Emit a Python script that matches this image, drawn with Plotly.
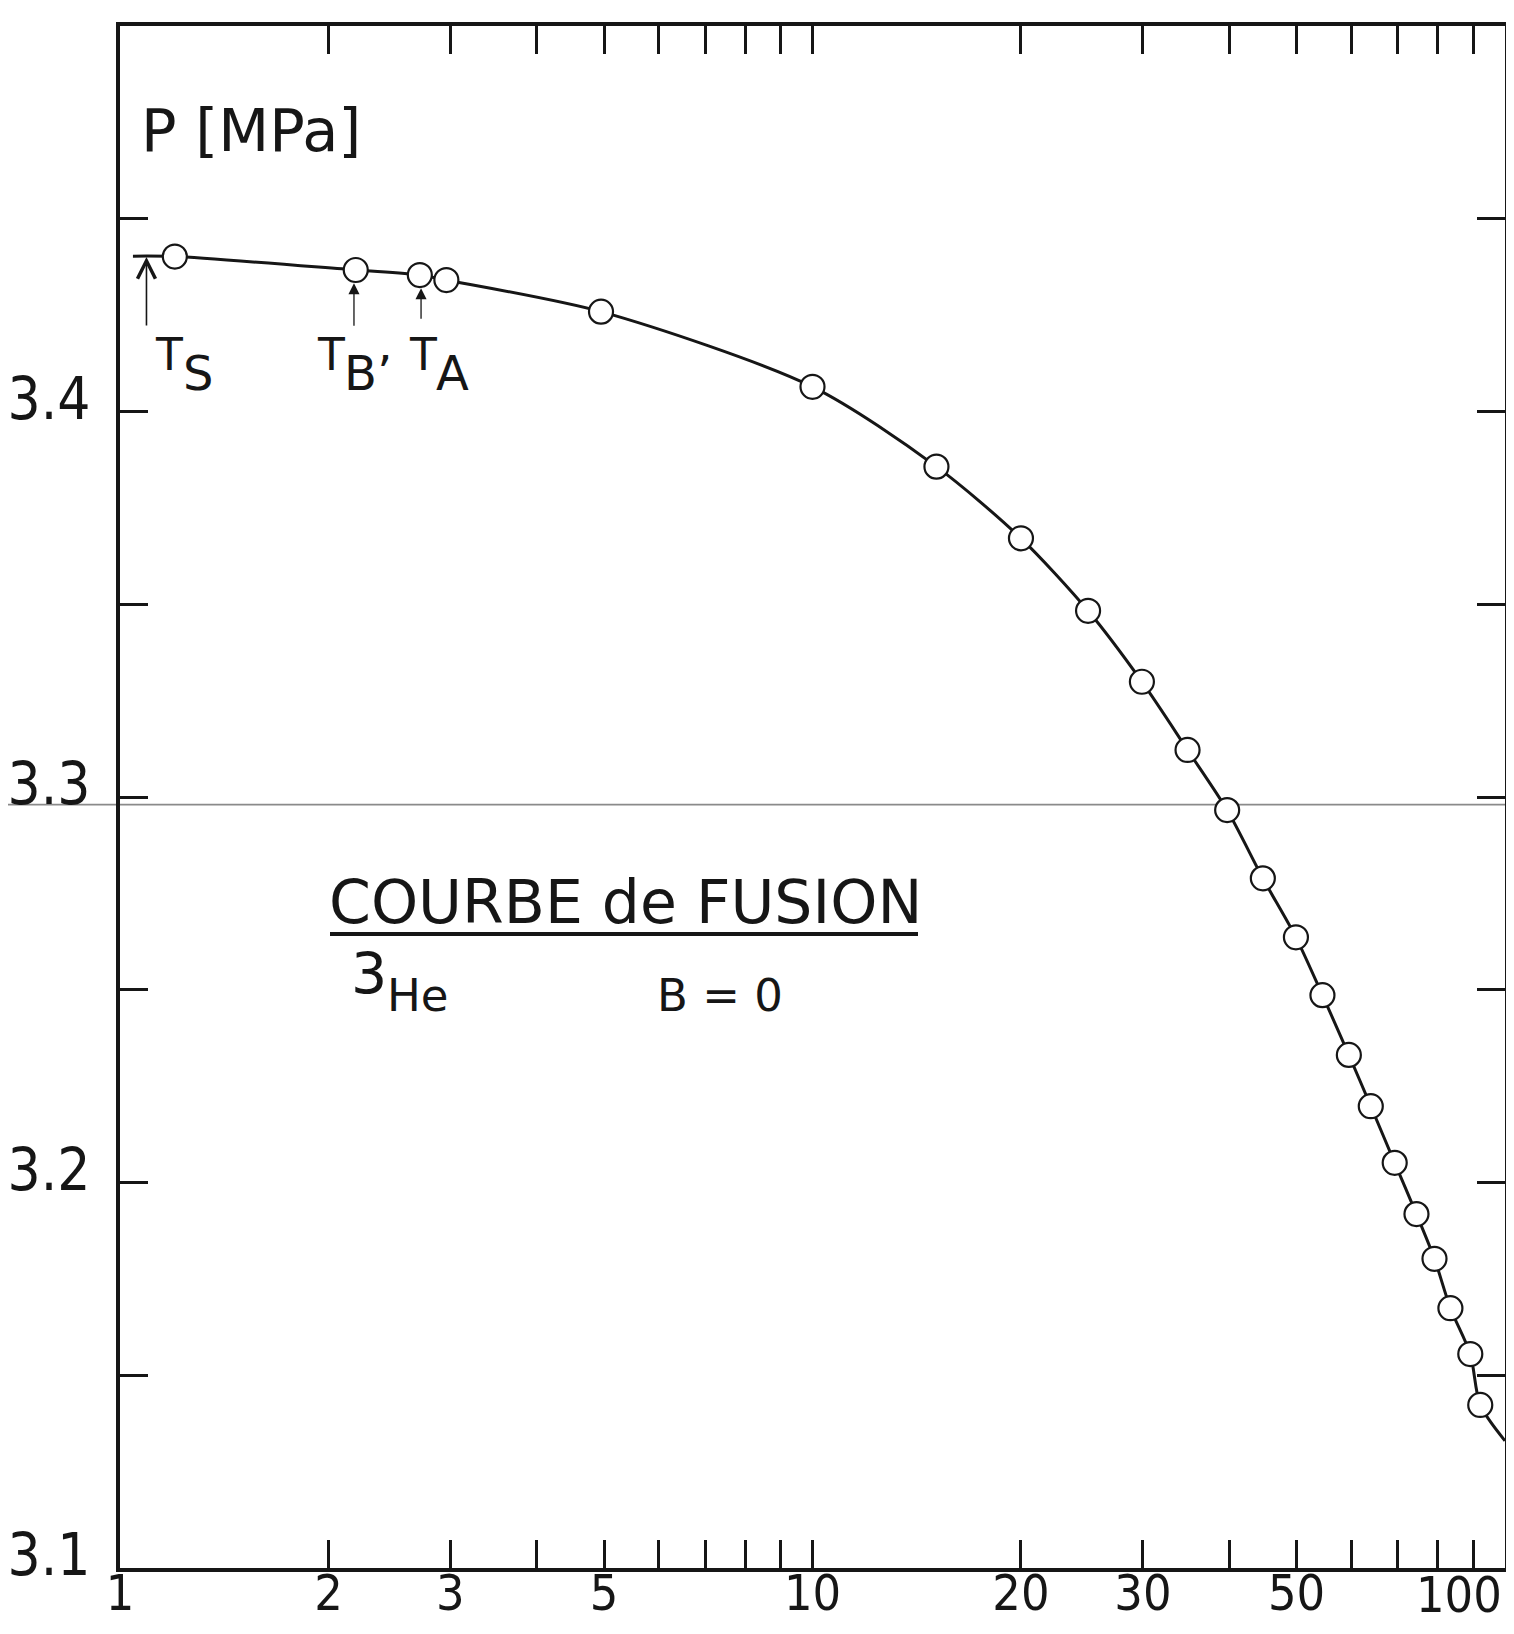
import math
import plotly.graph_objects as go

# ---------------- data ----------------
temperature_mK = [1.20, 2.19, 2.71, 2.96, 4.95, 10.0, 15.1, 20.0, 25.0, 29.9, 34.8,
                  39.7, 44.7, 49.9, 54.5, 59.5, 64.0, 69.3, 74.5, 79.1, 83.4, 89.1, 92.1]
pressure_MPa = [3.4402, 3.4367, 3.4354, 3.4341, 3.4259, 3.4064, 3.3857, 3.3671, 3.3483,
                3.3299, 3.3122, 3.2966, 3.2789, 3.2636, 3.2486, 3.2331, 3.2198, 3.2051,
                3.1918, 3.1802, 3.1674, 3.1555, 3.1423]
# ends of the drawn melting curve
curve_start_T, curve_start_P = 1.044, 3.4403
curve_end_T, curve_end_P = 100.0, 3.133

x_tick_values = [1, 2, 3, 4, 5, 6, 7, 8, 9, 10, 20, 30, 40, 50, 60, 70, 80, 90, 100]
x_tick_labels = ["1", "2", "3", "", "5", "", "", "", "", "10", "20", "30", "", "50",
                 "", "", "", "", ""]
y_tick_values = [3.10, 3.15, 3.20, 3.25, 3.30, 3.35, 3.40, 3.45, 3.50]
y_tick_labels = ["3.1", "", "3.2", "", "3.3", "", "3.4", "", ""]

reference_line_P = 3.298

# marked transition temperatures (arrows)
marker_T = {"TS": 1.092, "TB": 2.177, "TA": 2.721}
marker_P = {"TS": 3.4401, "TB": 3.4333, "TA": 3.4320}

# ---------------- layout geometry ----------------
PAGE_W, PAGE_H = 1514, 1634
BODY = 8                      # default body margin of the html page
W, H = PAGE_W - 2 * BODY, PAGE_H - 2 * BODY
# plot area in page pixels
PL, PT, PR, PB = 120, 26, 1505, 1568
L, T = PL - BODY, PT - BODY
R, B = W - (PR - BODY), H - (PB - BODY)
PW, PH = PR - PL, PB - PT


def px(X):
    return (X - PL) / PW


def py(Y):
    return (PB - Y) / PH


ink = "#161616"
num_font = "Liberation Sans Narrow, Arial Narrow, DejaVu Sans Condensed, sans-serif"
txt_font = "DejaVu Sans, Verdana, sans-serif"

fig = go.Figure()

curve_T = [curve_start_T] + temperature_mK + [curve_end_T]
curve_P = [curve_start_P] + pressure_MPa + [curve_end_P]

fig.add_trace(go.Scatter(
    x=curve_T, y=curve_P, mode="lines",
    line=dict(color=ink, width=3, shape="spline", smoothing=0.8),
    hoverinfo="skip", showlegend=False,
))
fig.add_trace(go.Scatter(
    x=temperature_mK, y=pressure_MPa, mode="markers",
    marker=dict(symbol="circle", size=24, color="white",
                line=dict(color=ink, width=2.2)),
    showlegend=False,
))

axis_common = dict(
    showline=True, linecolor=ink, linewidth=4, mirror="allticks",
    ticks="inside", ticklen=28, tickwidth=3, tickcolor=ink,
    showgrid=False, zeroline=False, automargin=False,
)

fig.update_xaxes(
    type="log", range=[0, 2],
    tickmode="array", tickvals=x_tick_values, ticktext=x_tick_labels,
    tickfont=dict(family=num_font, size=50, color=ink),
    ticklabelstandoff=-22,
    **axis_common,
)
fig.update_yaxes(
    range=[3.1, 3.5],
    tickmode="array", tickvals=y_tick_values, ticktext=y_tick_labels,
    tickfont=dict(family=num_font, size=58, color=ink),
    ticklabelstandoff=14, ticklabelshift=-13,
    **axis_common,
)

annotations = []


def text(s, X, Y, size, font=txt_font, xanchor="left"):
    annotations.append(dict(
        text=s, xref="paper", yref="paper", x=px(X), y=py(Y),
        xanchor=xanchor, yanchor="middle", showarrow=False, borderpad=0,
        font=dict(family=font, size=size, color=ink),
    ))


text("P [MPa]", 140, 131, 59)
text("COURBE de FUSION", 328, 902, 60)
text("3", 350, 974, 57)
text("He", 386, 995, 45)
text("B = 0", 656, 995, 45)

text("T", 154, 354, 44)
text("S", 182, 373, 48)
text("T", 316, 354, 44)
text("B\u2019", 343, 373, 48)
text("T", 408, 354, 44)
text("A", 435, 373, 48)

# arrows pointing at the marked points (log axis -> annotation x in log10 units)
arrow_specs = [("TS", 70, 5, 1.6, 2.2), ("TB", 44, 2, 1.3, 1.7), ("TA", 32, 2, 1.3, 1.7)]
for key, tail, head, width, size in arrow_specs:
    annotations.append(dict(
        x=math.log10(marker_T[key]), y=marker_P[key], xref="x", yref="y",
        text="", showarrow=True, arrowhead=head, arrowwidth=width, arrowsize=size,
        arrowcolor=ink, ax=0, ay=tail, standoff=0,
    ))

shapes = [
    # underline of the title
    dict(type="line", xref="paper", yref="paper", x0=px(330), x1=px(918),
         y0=py(934), y1=py(934), line=dict(color=ink, width=4)),
    # thin horizontal rule across the page
    dict(type="line", xref="paper", yref="y", x0=px(BODY), x1=px(PAGE_W),
         y0=reference_line_P, y1=reference_line_P, layer="below",
         line=dict(color="#8a8a8a", width=1.8)),
]

# "100" tick label kept inside the page like the original
annotations.append(dict(
    text="100", xref="paper", yref="paper", x=px(1503), y=py(1565),
    xanchor="right", yanchor="top", showarrow=False, borderpad=0,
    font=dict(family=num_font, size=50, color=ink),
))

fig.update_layout(
    width=W, height=H, autosize=False,
    margin=dict(l=L, r=R, t=T, b=B, pad=0),
    paper_bgcolor="white", plot_bgcolor="white",
    showlegend=False,
    annotations=annotations,
    shapes=shapes,
)

fig.write_html("out.html")
